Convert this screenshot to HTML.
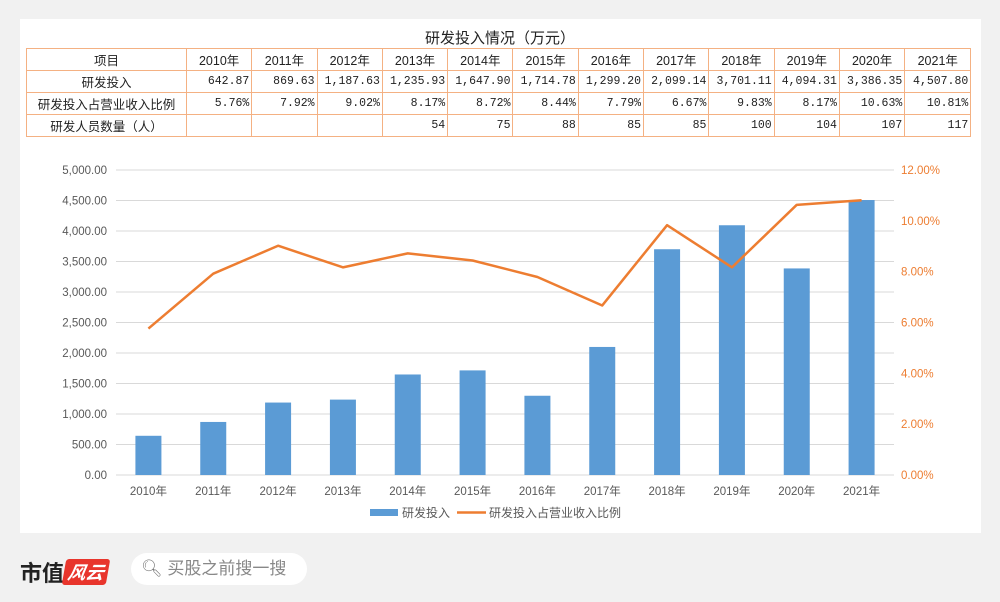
<!DOCTYPE html>
<html><head><meta charset="utf-8">
<style>
body{margin:0;width:1000px;height:602px;background:#f1f1f1;font-family:"Liberation Sans","Noto Sans CJK SC",sans-serif;overflow:hidden;position:relative}
#panel{position:absolute;left:20px;top:19px;width:961px;height:514px;background:#fff}
#title{position:absolute;left:0;top:27px;width:1000px;text-align:center;font-size:15px;color:#222}
table{position:absolute;left:26px;top:48px;border-collapse:collapse;table-layout:fixed;width:944px;font-size:12.5px;color:#222}
td{border:1px solid #f4b183;height:21px;padding:0 2px;text-align:right;font-family:"Liberation Mono","Noto Sans CJK SC",monospace;font-size:11.5px;white-space:nowrap;overflow:hidden}
td.h{text-align:center;font-family:"Liberation Sans","Noto Sans CJK SC",sans-serif;font-size:12.5px}
#footer-logo{position:absolute;left:20px;top:556px;font-size:22px;font-weight:bold;color:#222;font-family:"Noto Sans CJK SC",sans-serif}
#logo-red{display:inline-block;background:#e8352c;color:#fff;font-style:italic;font-size:18px;padding:0 4px;border-radius:3px;vertical-align:2px;transform:skew(-10deg)}
#search{position:absolute;left:131px;top:553px;width:176px;height:32px;background:#fff;border-radius:16px;font-size:17px;color:#888;line-height:32px}
</style></head><body>
<div id="panel"></div>
<div id="title">研发投入情况（万元）</div>
<table>
<colgroup><col style="width:160px"><col style="width:65.3px"><col style="width:65.3px"><col style="width:65.3px"><col style="width:65.3px"><col style="width:65.3px"><col style="width:65.3px"><col style="width:65.3px"><col style="width:65.3px"><col style="width:65.3px"><col style="width:65.3px"><col style="width:65.3px"><col style="width:66px"></colgroup>
<tr><td class="h">项目</td><td class="h">2010年</td><td class="h">2011年</td><td class="h">2012年</td><td class="h">2013年</td><td class="h">2014年</td><td class="h">2015年</td><td class="h">2016年</td><td class="h">2017年</td><td class="h">2018年</td><td class="h">2019年</td><td class="h">2020年</td><td class="h">2021年</td></tr>
<tr><td class="h">研发投入</td><td>642.87</td><td>869.63</td><td>1,187.63</td><td>1,235.93</td><td>1,647.90</td><td>1,714.78</td><td>1,299.20</td><td>2,099.14</td><td>3,701.11</td><td>4,094.31</td><td>3,386.35</td><td>4,507.80</td></tr>
<tr><td class="h">研发投入占营业收入比例</td><td>5.76%</td><td>7.92%</td><td>9.02%</td><td>8.17%</td><td>8.72%</td><td>8.44%</td><td>7.79%</td><td>6.67%</td><td>9.83%</td><td>8.17%</td><td>10.63%</td><td>10.81%</td></tr>
<tr><td class="h">研发人员数量（人）</td><td></td><td></td><td></td><td>54</td><td>75</td><td>88</td><td>85</td><td>85</td><td>100</td><td>104</td><td>107</td><td>117</td></tr>
</table>
<svg id="chart" width="1000" height="602" style="position:absolute;left:0;top:0"></svg>
<div id="footer-logo">市值<span id="logo-red">风云</span></div>
<div id="search"><span style="margin-left:10px;color:#777">&#x1F50D;&#xFE0E;</span> 买股之前搜一搜</div>
<script>
const categories=["2010年","2011年","2012年","2013年","2014年","2015年","2016年","2017年","2018年","2019年","2020年","2021年"];
const rdSpend=[642.87,869.63,1187.63,1235.93,1647.90,1714.78,1299.20,2099.14,3701.11,4094.31,3386.35,4507.80];
const rdRatio=[5.76,7.92,9.02,8.17,8.72,8.44,7.79,6.67,9.83,8.17,10.63,10.81];
const leftTicks=[0,500,1000,1500,2000,2500,3000,3500,4000,4500,5000];
const rightTicks=[0,2,4,6,8,10,12];
const svg=document.getElementById('chart');const NS='http://www.w3.org/2000/svg';
const L=116,R=894,T=170,B=475;
const step=(R-L)/categories.length;
const xc=i=>L+step*(i+0.5);
const yl=v=>B-(v/5000)*(B-T);
const yr=v=>B-(v/12)*(B-T);
function mk(t,a){const e=document.createElementNS(NS,t);for(const k in a)e.setAttribute(k,a[k]);svg.appendChild(e);return e;}
leftTicks.forEach(v=>{
 const g=mk('line',{x1:L,x2:R,y1:yl(v),y2:yl(v),stroke:'#d9d9d9','stroke-width':1});
 
 
 const t=mk('text',{x:107,y:yl(v)+4,'text-anchor':'end','font-size':11.5,fill:'#595959'});
 t.textContent=v.toLocaleString('en-US',{minimumFractionDigits:2});
 
 
});
rightTicks.forEach(v=>{
 const t=mk('text',{x:901,y:yr(v)+4,'font-size':11.5,fill:'#ed7d31'});
 t.textContent=v.toFixed(2)+'%';
 
 
});
categories.forEach((c,i)=>{
 const b=mk('rect',{x:xc(i)-13,y:yl(rdSpend[i]),width:26,height:B-yl(rdSpend[i]),fill:'#5b9bd5'});
 
 
 const t=mk('text',{x:xc(i),y:495,'text-anchor':'middle','font-size':11.5,fill:'#595959'});
 t.textContent=c;
 
 
});
const ln=mk('polyline',{points:rdRatio.map((v,i)=>xc(i)+','+yr(v)).join(' '),fill:'none',stroke:'#ed7d31','stroke-width':2.5,'stroke-linejoin':'round'});


const lg1=mk('rect',{x:370,y:509,width:28,height:7,fill:'#5b9bd5'});


const lt1=mk('text',{x:402,y:517,'font-size':12,fill:'#595959'});lt1.textContent='研发投入';


const lg2=mk('line',{x1:457,x2:486,y1:512.5,y2:512.5,stroke:'#ed7d31','stroke-width':2.5});


const lt2=mk('text',{x:489,y:517,'font-size':12,fill:'#595959'});lt2.textContent='研发投入占营业收入比例';


</script>
</body></html>
